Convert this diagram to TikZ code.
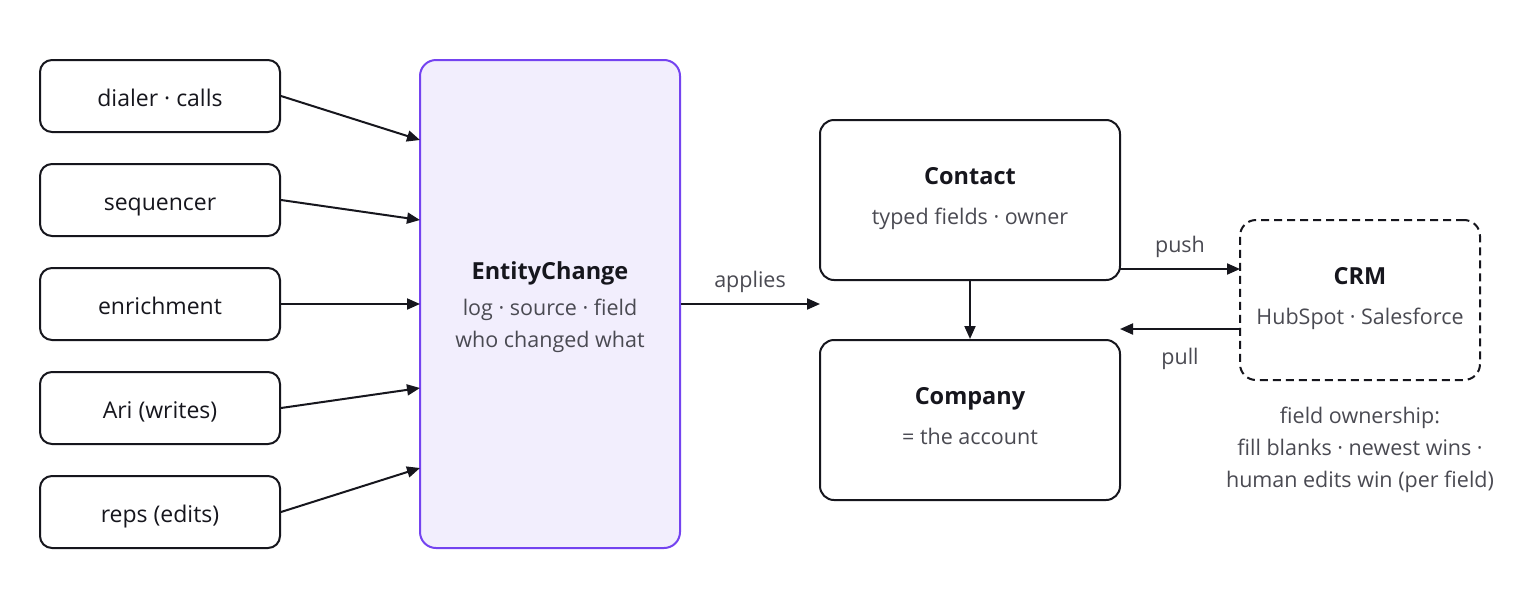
\documentclass[tikz,border=0pt]{standalone}
\usepackage{fontspec}
\setmainfont{Open Sans}
\usetikzlibrary{arrows.meta}
\definecolor{ink}{HTML}{16161D}
\definecolor{sub}{HTML}{4A4A52}
\definecolor{lav}{HTML}{F2EEFD}
\definecolor{purp}{HTML}{7443F0}
\tikzset{
  src/.style={draw=ink, line width=2pt, rounded corners=12pt, minimum width=240pt, minimum height=72pt, inner sep=0pt, text height=20pt, text depth=0pt, text=ink, font=\fontsize{23}{26}\selectfont},
  entbox/.style={draw=ink, line width=2pt, rounded corners=14pt, minimum width=300pt, minimum height=160pt, inner sep=0pt},
  arr/.style={draw=ink, line width=2pt, -{Triangle[length=13pt,width=11pt]}},
  lbl/.style={text=sub, inner sep=0pt, anchor=base, font=\fontsize{21.5}{26}\selectfont},
  ttl/.style={text=ink, inner sep=0pt, anchor=base, font=\fontsize{23.5}{26}\selectfont\bfseries},
}
\begin{document}
\begin{tikzpicture}[x=1pt,y=-1pt]
\path[use as bounding box, fill=white] (0,0) rectangle (1520,600);
% sources
\node[src] (dialer) at (160,96) {dialer · calls};
\node[src] (seq) at (160,200) {sequencer};
\node[src] (enr) at (160,304) {enrichment};
\node[src] (ari) at (160,408) {Ari (writes)};
\node[src] (reps) at (160,512) {reps (edits)};
% entity change
\node[draw=purp, fill=lav, line width=2pt, rounded corners=16pt, minimum width=260pt, minimum height=488pt, inner sep=0pt] (ec) at (550,304) {};
\node[ttl] (ect) at (550,279) {EntityChange};
\node[lbl] (ecs1) at (550,315) {log · source · field};
\node[lbl] (ecs2) at (550,347) {who changed what};
% contact / company
\node[entbox] (contact) at (970,200) {};
\node[ttl] (contactt) at (970,184) {Contact};
\node[lbl] (contacts) at (970,224) {typed fields · owner};
\node[entbox] (company) at (970,420) {};
\node[ttl] (companyt) at (970,404) {Company};
\node[lbl] (companys) at (970,444) {= the account};
% CRM
\node[draw=ink, dash pattern=on 8pt off 5pt, line width=2pt, rounded corners=16pt, minimum width=240pt, minimum height=160pt, inner sep=0pt] (crm) at (1360,300) {};
\node[ttl] (crmt) at (1360,284) {CRM};
\node[lbl] (crms) at (1360,324) {HubSpot · Salesforce};
% note
\node[lbl] (note1) at (1360,423) {field ownership:};
\node[lbl] (note2) at (1360,455) {fill blanks · newest wins ·};
\node[lbl] (note3) at (1360,487) {human edits win (per field)};
% source arrows
\coordinate (e1) at (420,140);
\coordinate (e2) at (420,220);
\coordinate (e3) at (420,304);
\coordinate (e4) at (420,388);
\coordinate (e5) at (420,468);
\draw[arr] (dialer.east) -- (e1);
\draw[arr] (seq.east) -- (e2);
\draw[arr] (enr.east) -- (e3);
\draw[arr] (ari.east) -- (e4);
\draw[arr] (reps.east) -- (e5);
% applies
\coordinate (ap) at (820,304);
\draw[arr] (ec.east) -- (ap);
\node[lbl] (aplbl) at (750,287) {applies};
% contact -> company
\draw[arr] (contact.south) -- (company.north);
% push / pull
\coordinate (ps) at (1120,269);
\coordinate (pe) at (1240,269);
\coordinate (ls) at (1240,329);
\coordinate (le) at (1120,329);
\draw[arr] (ps) -- (pe);
\draw[arr] (ls) -- (le);
\node[lbl] (pushl) at (1180,252) {push};
\node[lbl] (pulll) at (1180,364) {pull};
\end{tikzpicture}
\end{document}
